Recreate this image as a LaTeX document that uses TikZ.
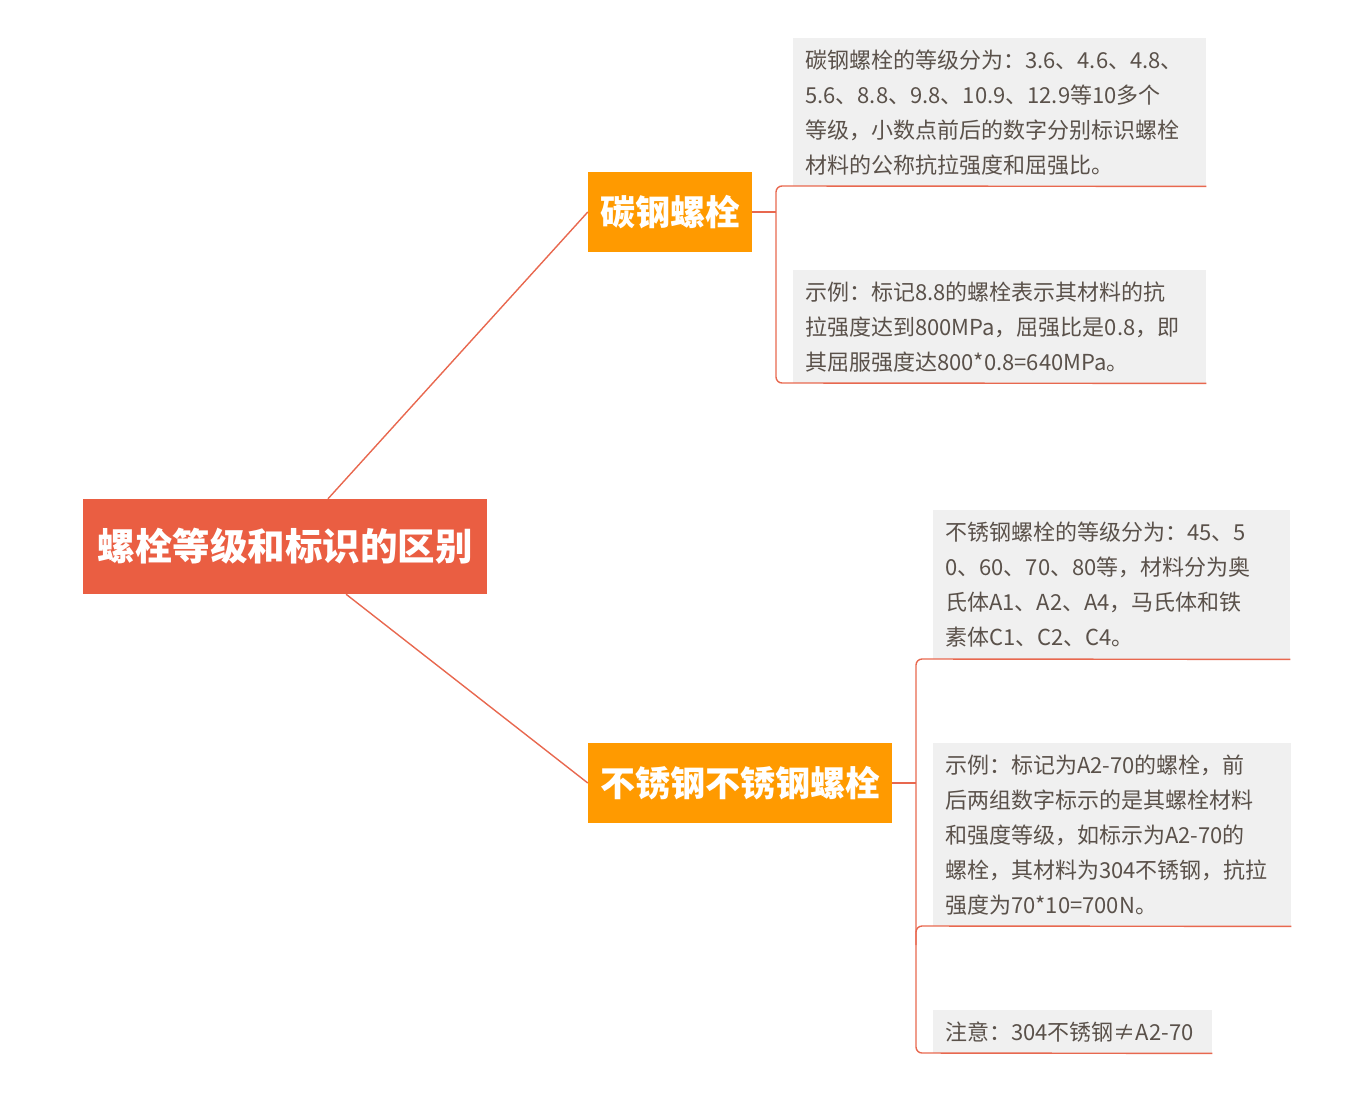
\documentclass[tikz,border=0pt]{standalone}
\usepackage{fontspec}
\setmainfont{Noto Sans CJK SC}
\begin{document}
\begin{tikzpicture}[x=1pt,y=-1pt,
  conn/.style={draw=linec, line width=1.4pt},
  rootbox/.style={fill=rootc, text=white, inner sep=0pt, minimum width=404pt, minimum height=95pt, font=\fontsize{37.5}{42}\selectfont\bfseries},
  topicbox/.style={fill=topicc, text=white, inner sep=0pt, minimum height=80pt, font=\fontsize{35}{40}\selectfont\bfseries},
  leafbox/.style={fill=leafc, text=textc, inner xsep=12pt, inner ysep=0pt, align=left, anchor=north west, font=\fontsize{22}{35}\selectfont},
]
\definecolor{rootc}{HTML}{EA5E42}
\definecolor{topicc}{HTML}{FF9A00}
\definecolor{leafc}{HTML}{F0F0F0}
\definecolor{linec}{HTML}{E8684F}
\definecolor{textc}{HTML}{5A514A}
\useasboundingbox (0,0) rectangle (1356,1092);

\node[rootbox] (R) at (285,546.5) {螺栓等级和标识的区别};
\node[topicbox, minimum width=164pt] (C) at (670,212) {碳钢螺栓};
\node[topicbox, minimum width=304pt] (S) at (740,783) {不锈钢不锈钢螺栓};

\node[leafbox, text width=389pt, minimum height=148pt] (L1) at (793,38) {碳钢螺栓的等级分为：3.6、4.6、4.8、\\5.6、8.8、9.8、10.9、12.9等10多个\\等级，小数点前后的数字分别标识螺栓\\材料的公称抗拉强度和屈强比。};
\node[leafbox, text width=389pt, minimum height=113pt] (L2) at (793,270) {示例：标记8.8的螺栓表示其材料的抗\\拉强度达到800MPa，屈强比是0.8，即\\其屈服强度达800*0.8=640MPa。};
\node[leafbox, text width=333pt, minimum height=149pt] (L3) at (933,510) {不锈钢螺栓的等级分为：45、5\\0、60、70、80等，材料分为奥\\氏体A1、A2、A4，马氏体和铁\\素体C1、C2、C4。};
\node[leafbox, text width=334pt, minimum height=183pt] (L4) at (933,743) {示例：标记为A2-70的螺栓，前\\后两组数字标示的是其螺栓材料\\和强度等级，如标示为A2-70的\\螺栓，其材料为304不锈钢，抗拉\\强度为70*10=700N。};
\node[leafbox, text width=255pt, minimum height=43pt] (L5) at (933,1010) {注意：304不锈钢≠A2-70};

\coordinate (b1t) at (776,186);
\coordinate (b1m) at (776,212);
\coordinate (b1b) at (776,383);
\coordinate (b2t) at (916,659);
\coordinate (b2m) at (916,783);
\coordinate (b2c) at (916,926);
\coordinate (b2d) at (916,945);
\coordinate (b2b) at (916,1053);

\draw[conn] (R) -- (C.west);
\draw[conn] (R) -- (S.west);

\draw[conn] (C.east) -- (b1m);
\draw[conn, rounded corners=6pt] (L1.south east) -- (b1t) -- (b1b) -- (L2.south east);

\draw[conn] (S.east) -- (b2m);
\draw[conn, rounded corners=6pt] (L3.south east) -- (b2t) -- (b2b) -- (L5.south east);
\draw[conn, rounded corners=6pt] (L4.south east) -- (b2c) -- (b2d);
\end{tikzpicture}
\end{document}
